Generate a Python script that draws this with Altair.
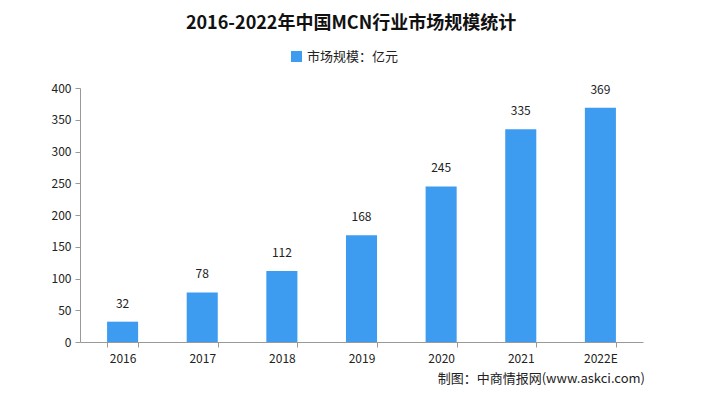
import altair as alt
import pandas as pd

years = ["2016", "2017", "2018", "2019", "2020", "2021", "2022E"]
values = [32, 78, 112, 168, 245, 335, 369]
series_name = "市场规模：亿元"
title_text = "2016-2022年中国MCN行业市场规模统计"
source_text = "制图：中商情报网(www.askci.com)"
y_ticks = [0, 50, 100, 150, 200, 250, 300, 350, 400]

df = pd.DataFrame({"year": years, "value": values, "series": [series_name] * len(years)})

FONT = "Noto Sans CJK SC"
BLUE = "#3d9cf0"

x_enc = alt.X("year:N", sort=years, title=None,
              scale=alt.Scale(paddingInner=0.61, paddingOuter=0.34),
              axis=alt.Axis(labelAngle=0, tickBand="extent", grid=False, labelFont=FONT,
                            labelFontSize=12, labelColor="#222", domainColor="#999",
                            tickColor="#999", tickSize=5, labelPadding=6))
y_enc = alt.Y("value:Q", title=None,
              scale=alt.Scale(domain=[0, 400]),
              axis=alt.Axis(values=y_ticks, grid=False, labelOverlap=False, labelFont=FONT,
                            labelFontSize=12, labelColor="#222", domainColor="#999",
                            tickColor="#999", tickSize=5, labelPadding=4))

base = alt.Chart(df)

bars = base.mark_bar(color=BLUE).encode(
    x=x_enc,
    y=y_enc,
    color=alt.Color("series:N", scale=alt.Scale(range=[BLUE]),
                    legend=alt.Legend(title=None, orient="none", legendX=210, legendY=-38,
                                      direction="horizontal", symbolType="square",
                                      symbolSize=120, labelFont=FONT, labelFontSize=13,
                                      labelColor="#222")),
)

labels = base.mark_text(baseline="bottom", dy=-11, font=FONT, fontSize=12, color="#222").encode(
    x=x_enc,
    y=y_enc,
    text="value:Q",
)

title = alt.Chart(pd.DataFrame({"t": [title_text]})).mark_text(
    font=FONT, fontSize=18, fontWeight="bold", color="#111", align="center", baseline="middle"
).encode(text="t:N", x=alt.value(271), y=alt.value(-64))

source = alt.Chart(pd.DataFrame({"t": [source_text]})).mark_text(
    font=FONT, fontSize=13, color="#222", align="right", baseline="middle"
).encode(text="t:N", x=alt.value(565), y=alt.value(291))

chart = alt.layer(bars, labels, title, source).properties(
    width=563, height=254,
    autosize=alt.AutoSizeParams(type="none"),
    padding={"left": 72, "top": 80, "right": 51, "bottom": 44},
    background="white",
).configure_view(strokeWidth=0, stroke="transparent").configure_axis(grid=False)

chart.save("out.html", embed_options={"renderer": "svg", "actions": False})
